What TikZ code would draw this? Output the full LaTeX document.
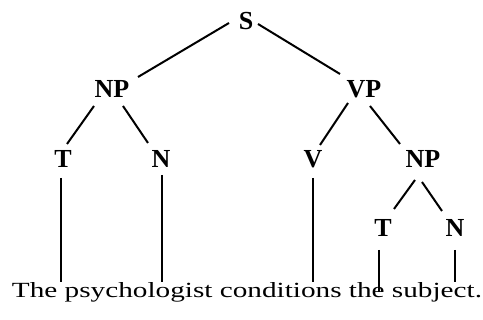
\documentclass[tikz,border=0pt]{standalone}
\usepackage{fontspec}
\setmainfont{Liberation Serif}
\usepackage{graphicx}
\begin{document}
\begin{tikzpicture}[x=1pt,y=1pt,
  lab/.style={font=\bfseries\fontsize{26}{26}\selectfont, inner sep=0pt},
  edge/.style={line width=2pt}]
\useasboundingbox (0,0) rectangle (483,320);
\node[lab] (S)   at (246,299) {S};
\node[lab] (NPa) at (112,231) {NP};
\node[lab] (VP)  at (364,231) {VP};
\node[lab] (Ta)  at (63,161)  {T};
\node[lab] (Na)  at (161,161) {N};
\node[lab] (V)   at (313,161) {V};
\node[lab] (NPb) at (423,161) {NP};
\node[lab] (Tb)  at (383,92)  {T};
\node[lab] (Nb)  at (455,92)  {N};
\node[anchor=base, inner sep=0pt] (sent) at (247,22)
  {\resizebox{470pt}{15pt}{The psychologist conditions the subject.}};
\coordinate (w1) at (61,38);
\coordinate (w2) at (162,38);
\coordinate (w3) at (313,38);
\coordinate (w4) at (379,28);
\coordinate (w5) at (455,38);
\draw[edge] ([shift={(-17,-2)}]S.center) -- ([shift={(26,12)}]NPa.center);
\draw[edge] ([shift={(12,-3)}]S.center) -- ([shift={(-24,15)}]VP.center);
\draw[edge] ([shift={(-18,-17)}]NPa.center) -- ([shift={(4,15)}]Ta.center);
\draw[edge] ([shift={(11,-17)}]NPa.center) -- ([shift={(-13,16)}]Na.center);
\draw[edge] ([shift={(-16,-14)}]VP.center) -- ([shift={(7,14)}]V.center);
\draw[edge] ([shift={(6,-17)}]VP.center) -- ([shift={(-23,15)}]NPb.center);
\draw[edge] ([shift={(-8,-21)}]NPb.center) -- ([shift={(11,19)}]Tb.center);
\draw[edge] ([shift={(-1,-23)}]NPb.center) -- ([shift={(-13,17)}]Nb.center);
\draw[edge] ([shift={(-2,-19)}]Ta.center) -- (w1);
\draw[edge] ([shift={(1,-16)}]Na.center) -- (w2);
\draw[edge] ([shift={(0,-19)}]V.center) -- (w3);
\draw[edge] ([shift={(-4,-22)}]Tb.center) -- (w4);
\draw[edge] ([shift={(0,-22)}]Nb.center) -- (w5);
\end{tikzpicture}
\end{document}
